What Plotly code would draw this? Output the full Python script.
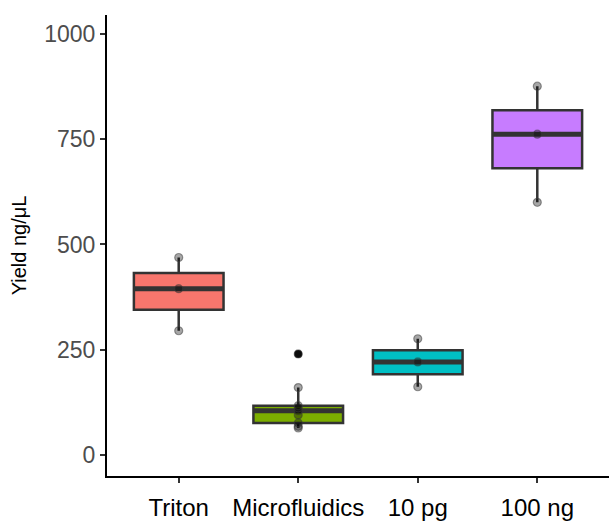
import numpy as np
import plotly.graph_objects as go

categories = ["Triton", "Microfluidics", "10 pg", "100 ng"]
colors = ["#F8766D", "#7CAE00", "#00BFC4", "#C77CFF"]
triton = [295, 395, 469]
microfluidics = [64, 68, 76, 95, 105, 112, 117, 160, 240]
pg10 = [162, 221, 276]
ng100 = [600, 762, 876]
series = [triton, microfluidics, pg10, ng100]
y_ticks = [0, 250, 500, 750, 1000]

fig = go.Figure()
for i, (cat, vals, col) in enumerate(zip(categories, series, colors)):
    vals = np.array(vals, dtype=float)
    fig.add_trace(go.Box(
        x=[i] * len(vals), y=vals, name=cat,
        fillcolor=col, line=dict(color="#333333", width=2.5),
        width=0.75, whiskerwidth=0, boxpoints="outliers",
        marker=dict(color="#111111", size=8, outliercolor="#111111",
                    line=dict(width=0)),
        quartilemethod="inclusive", showlegend=False, hoverinfo="y",
    ))
    med = float(np.percentile(vals, 50))
    fig.add_trace(go.Scatter(
        x=[i - 0.375, i + 0.375], y=[med, med], mode="lines",
        line=dict(color="#333333", width=5), showlegend=False, hoverinfo="skip",
    ))

for i, vals in enumerate(series):
    fig.add_trace(go.Scatter(
        x=[i] * len(vals), y=vals, mode="markers",
        marker=dict(color="rgba(0,0,0,0.35)", size=8,
                    line=dict(color="rgba(60,60,60,0.5)", width=1.2)),
        showlegend=False, hoverinfo="y",
    ))

fig.update_layout(
    width=609, height=524,
    margin=dict(l=107, r=0, t=15, b=48),
    plot_bgcolor="white", paper_bgcolor="white",
    font=dict(family="Liberation Sans, Arial, sans-serif"),
)
fig.update_xaxes(
    range=[-0.6, 3.6], tickmode="array", tickvals=list(range(len(categories))),
    ticktext=categories, showline=True, linecolor="black", linewidth=2,
    ticks="outside", ticklen=5, tickcolor="#333333", tickwidth=2,
    showgrid=False, zeroline=False, ticklabelstandoff=4,
    tickfont=dict(size=24, color="black"),
)
fig.update_yaxes(
    range=[-50, 1045], tickmode="array", tickvals=y_ticks,
    showline=True, linecolor="black", linewidth=2,
    ticks="outside", ticklen=5, tickcolor="#333333", tickwidth=2,
    showgrid=False, zeroline=False,
    tickfont=dict(size=23, color="#4D4D4D"),
    title=dict(text="Yield ng/μL", font=dict(size=20, color="black"), standoff=12),
)

fig.write_html("out.html")
